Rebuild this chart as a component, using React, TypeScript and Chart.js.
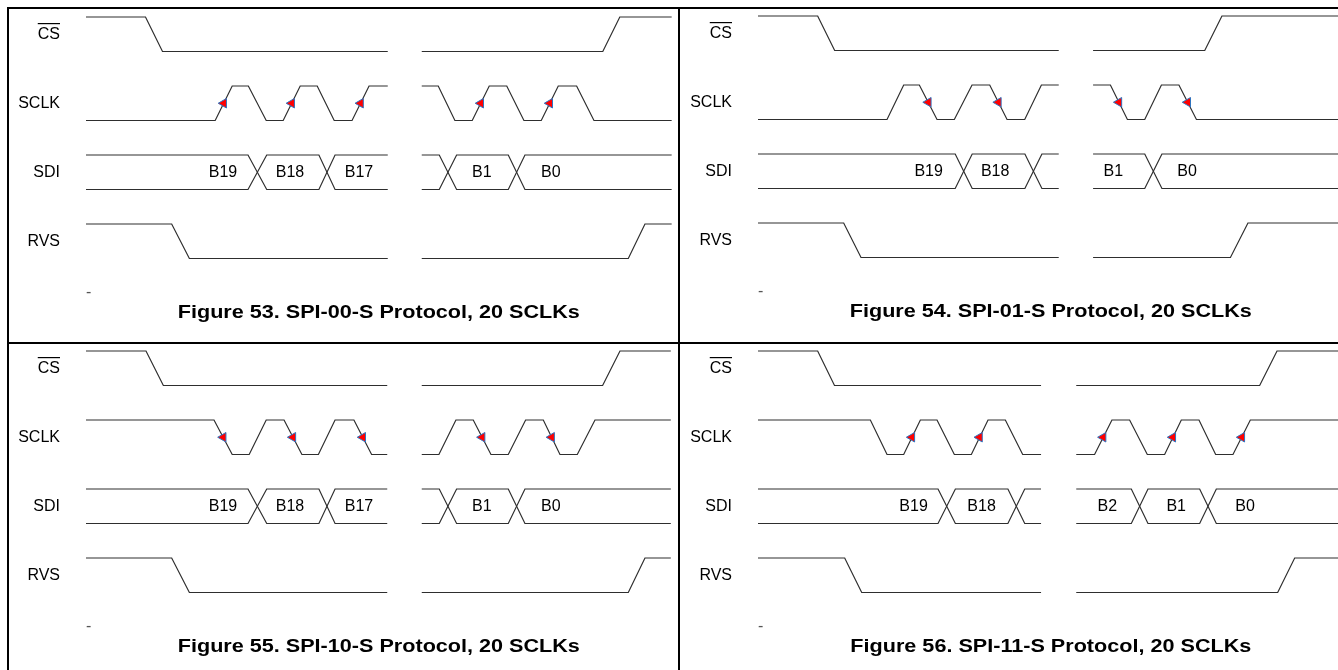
import React, { useEffect, useRef } from 'react';
import { Chart, registerables } from 'chart.js';

Chart.register(...registerables);

// ---------- shared ----------
const SIGNAL_NAMES = ['CS', 'SCLK', 'SDI', 'RVS'];
const ROW_HIGH = [1, -1, -3, -5]; // high level of each row (row units); low = high - 1

// ---------- Figure 53 ----------
const F53_TITLE = 'Figure 53. SPI-00-S Protocol, 20 SCLKs';
const F53_SEGMENTS = [[0, 17.75], [19.75, 34.45]];
const F53_CS_START = 1;
const F53_CS_EDGES = [[3.5, 4.5], [30.4, 31.4]];
const F53_SCLK_START = 0;
const F53_SCLK_EDGES = [[7.6, 8.6], [9.55, 10.6], [11.6, 12.6], [13.6, 14.6], [15.65, 16.65], [20.72, 21.7], [22.72, 23.72], [24.75, 25.76], [26.78, 27.78], [28.86, 29.88]];
const F53_SDI_CROSSINGS = [[9.53, 10.63], [13.7, 14.65], [20.78, 21.8], [24.84, 25.82]];
const F53_SDI_BITS = ['B19', 'B18', 'B17', 'B1', 'B0'];
const F53_SDI_BIT_TIMES = [8.06, 12.0, 16.06, 23.28, 27.34];
const F53_RVS_START = 1;
const F53_RVS_EDGES = [[5.04, 6.08], [31.9, 32.88]];
const F53_ARROWS = [8.1, 12.1, 16.15, 23.22, 27.28];

// ---------- Figure 54 ----------
const F54_TITLE = 'Figure 54. SPI-01-S Protocol, 20 SCLKs';
const F54_SEGMENTS = [[0, 17.69], [19.71, 34.6]];
const F54_CS_START = 1;
const F54_CS_EDGES = [[3.51, 4.51], [26.28, 27.29]];
const F54_SCLK_START = 0;
const F54_SCLK_EDGES = [[7.59, 8.57], [9.49, 10.53], [11.55, 12.59], [13.63, 14.65], [15.69, 16.67], [20.73, 21.73], [22.75, 23.73], [24.76, 25.79]];
const F54_SDI_CROSSINGS = [[11.6, 12.6], [15.7, 16.7], [22.75, 23.76]];
const F54_SDI_BITS = ['B19', 'B18', 'B1', 'B0'];
const F54_SDI_BIT_TIMES = [10.04, 13.95, 20.9, 25.24];
const F54_RVS_START = 1;
const F54_RVS_EDGES = [[5.04, 6.06], [27.79, 28.82]];
const F54_ARROWS = [10.02, 14.14, 21.23, 25.28];

// ---------- Figure 55 ----------
const F55_TITLE = 'Figure 55. SPI-10-S Protocol, 20 SCLKs';
const F55_SEGMENTS = [[0, 17.72], [19.75, 34.4]];
const F55_CS_START = 1;
const F55_CS_EDGES = [[3.53, 4.55], [30.39, 31.41]];
const F55_SCLK_START = 1;
const F55_SCLK_EDGES = [[7.53, 8.6], [9.6, 10.6], [11.65, 12.7], [13.67, 14.65], [15.76, 16.8], [20.76, 21.76], [22.78, 23.82], [24.84, 25.86], [26.9, 27.88], [28.9, 29.94]];
const F55_SDI_CROSSINGS = [[9.53, 10.63], [13.7, 14.65], [20.78, 21.8], [24.84, 25.82]];
const F55_SDI_BITS = ['B19', 'B18', 'B17', 'B1', 'B0'];
const F55_SDI_BIT_TIMES = [8.06, 12.0, 16.06, 23.28, 27.34];
const F55_RVS_START = 1;
const F55_RVS_EDGES = [[5.04, 6.08], [31.9, 32.88]];
const F55_ARROWS = [8.07, 12.17, 16.28, 23.3, 27.39];

// ---------- Figure 56 ----------
const F56_TITLE = 'Figure 56. SPI-11-S Protocol, 20 SCLKs';
const F56_SEGMENTS = [[0, 16.65], [18.72, 34.6]];
const F56_CS_START = 1;
const F56_CS_EDGES = [[3.51, 4.5], [29.51, 30.53]];
const F56_SCLK_START = 1;
const F56_SCLK_EDGES = [[6.61, 7.59], [8.57, 9.55], [10.53, 11.55], [12.55, 13.53], [14.55, 15.57], [19.8, 20.82], [21.86, 22.9], [23.92, 24.9], [25.94, 26.92], [27.94, 28.96]];
const F56_SDI_CROSSINGS = [[10.59, 11.61], [14.7, 15.69], [21.96, 22.94], [25.98, 26.96]];
const F56_SDI_BITS = ['B19', 'B18', 'B2', 'B1', 'B0'];
const F56_SDI_BIT_TIMES = [9.15, 13.15, 20.55, 24.6, 28.65];
const F56_RVS_START = 1;
const F56_RVS_EDGES = [[5.1, 6.1], [30.57, 31.57]];
const F56_ARROWS = [9.05, 13.03, 20.3, 24.4, 28.46];

// ---------- layout (pixels) ----------
const PX_PER_T = 17;      // px per time unit
const ORIGIN_PX = 78;     // px from canvas left to t = 0
const ROW_UNIT_PX = 34.5; // px per level unit
const TOP_PX = 8;         // px from canvas top to CS high level

const PANELS = [
  { title: F53_TITLE, seg: F53_SEGMENTS, cs: [F53_CS_START, F53_CS_EDGES], sclk: [F53_SCLK_START, F53_SCLK_EDGES], sdi: F53_SDI_CROSSINGS, bits: F53_SDI_BITS, bitT: F53_SDI_BIT_TIMES, rvs: [F53_RVS_START, F53_RVS_EDGES], arrows: F53_ARROWS, left: 8, top: 9, w: 670, h: 334 },
  { title: F54_TITLE, seg: F54_SEGMENTS, cs: [F54_CS_START, F54_CS_EDGES], sclk: [F54_SCLK_START, F54_SCLK_EDGES], sdi: F54_SDI_CROSSINGS, bits: F54_SDI_BITS, bitT: F54_SDI_BIT_TIMES, rvs: [F54_RVS_START, F54_RVS_EDGES], arrows: F54_ARROWS, left: 680, top: 8, w: 658, h: 335 },
  { title: F55_TITLE, seg: F55_SEGMENTS, cs: [F55_CS_START, F55_CS_EDGES], sclk: [F55_SCLK_START, F55_SCLK_EDGES], sdi: F55_SDI_CROSSINGS, bits: F55_SDI_BITS, bitT: F55_SDI_BIT_TIMES, rvs: [F55_RVS_START, F55_RVS_EDGES], arrows: F55_ARROWS, left: 8, top: 343, w: 670, h: 327 },
  { title: F56_TITLE, seg: F56_SEGMENTS, cs: [F56_CS_START, F56_CS_EDGES], sclk: [F56_SCLK_START, F56_SCLK_EDGES], sdi: F56_SDI_CROSSINGS, bits: F56_SDI_BITS, bitT: F56_SDI_BIT_TIMES, rvs: [F56_RVS_START, F56_RVS_EDGES], arrows: F56_ARROWS, left: 680, top: 343, w: 658, h: 327 },
];

type Pt = { x: number; y: number | null };

function buildTrace(segments: number[][], startLevel: number, edges: number[][], hi: number, lo: number): Pt[] {
  const pts: Pt[] = [];
  let level = startLevel;
  segments.forEach(([s, e], si) => {
    pts.push({ x: s, y: level ? hi : lo });
    edges.filter(([a, b]) => a >= s && b <= e).forEach(([a, b]) => {
      pts.push({ x: a, y: level ? hi : lo });
      level = 1 - level;
      pts.push({ x: b, y: level ? hi : lo });
    });
    pts.push({ x: e, y: level ? hi : lo });
    if (si < segments.length - 1) pts.push({ x: (e + segments[si + 1][0]) / 2, y: null });
  });
  return pts;
}

function buildBus(segments: number[][], crossings: number[][], hi: number, lo: number): Pt[][] {
  const a: Pt[] = [];
  const b: Pt[] = [];
  let up = true;
  segments.forEach(([s, e], si) => {
    a.push({ x: s, y: up ? hi : lo });
    b.push({ x: s, y: up ? lo : hi });
    crossings.filter(([c0, c1]) => c0 >= s && c1 <= e).forEach(([c0, c1]) => {
      a.push({ x: c0, y: up ? hi : lo });
      b.push({ x: c0, y: up ? lo : hi });
      up = !up;
      a.push({ x: c1, y: up ? hi : lo });
      b.push({ x: c1, y: up ? lo : hi });
    });
    a.push({ x: e, y: up ? hi : lo });
    b.push({ x: e, y: up ? lo : hi });
    if (si < segments.length - 1) {
      const g = (e + segments[si + 1][0]) / 2;
      a.push({ x: g, y: null });
      b.push({ x: g, y: null });
    }
  });
  return [a, b];
}

const LINE_COLOR = '#2e2e2e';
const FONT = '"Liberation Sans", Arial, Helvetica, sans-serif';

function makeChart(canvas: HTMLCanvasElement, p: any) {
  const lineDs = (data: Pt[]) => ({
    data,
    borderColor: LINE_COLOR,
    borderWidth: 1.2,
    pointRadius: 0,
    fill: false,
    tension: 0,
    spanGaps: false,
  });
  const [sdiA, sdiB] = buildBus(p.seg, p.sdi, ROW_HIGH[2], ROW_HIGH[2] - 1);
  const sclkMid = ROW_HIGH[1] - 0.5;
  const datasets: any[] = [
    {
      data: p.arrows.map((t: number) => ({ x: t, y: sclkMid })),
      showLine: false,
      pointStyle: 'triangle',
      rotation: 270,
      pointRadius: 5.5,
      backgroundColor: '#ff0000',
      borderColor: '#2f74c0',
      borderWidth: 1,
    },
    lineDs(buildTrace(p.seg, p.cs[0], p.cs[1], ROW_HIGH[0], ROW_HIGH[0] - 1)),
    lineDs(buildTrace(p.seg, p.sclk[0], p.sclk[1], ROW_HIGH[1], ROW_HIGH[1] - 1)),
    lineDs(sdiA),
    lineDs(sdiB),
    lineDs(buildTrace(p.seg, p.rvs[0], p.rvs[1], ROW_HIGH[3], ROW_HIGH[3] - 1)),
  ];

  const xMin = -ORIGIN_PX / PX_PER_T;
  const xMax = (p.w - ORIGIN_PX) / PX_PER_T;
  const yMax = ROW_HIGH[0] + TOP_PX / ROW_UNIT_PX;
  const yMin = ROW_HIGH[0] - (p.h - TOP_PX) / ROW_UNIT_PX;
  const titleT = (p.seg[0][0] + F53_SEGMENTS[F53_SEGMENTS.length - 1][1]) / 2;

  const textPlugin = {
    id: 'timingText',
    afterDatasetsDraw(chart: any) {
      const ctx = chart.ctx;
      const xs = chart.scales.x;
      const ys = chart.scales.y;
      ctx.save();
      ctx.fillStyle = '#000';
      ctx.textBaseline = 'middle';
      // signal names
      ctx.font = `16px ${FONT}`;
      ctx.textAlign = 'right';
      const nameX = xs.getPixelForValue(-1.53);
      SIGNAL_NAMES.forEach((name, i) => {
        const y = ys.getPixelForValue(ROW_HIGH[i] - 0.5);
        ctx.fillText(name, nameX, y);
        if (name === 'CS') {
          const w = ctx.measureText(name).width;
          ctx.fillRect(nameX - w, Math.round(y - 11), w, 1.2);
        }
      });
      // bit labels
      ctx.textAlign = 'center';
      const busMid = ys.getPixelForValue(ROW_HIGH[2] - 0.5);
      p.bits.forEach((b: string, i: number) => {
        ctx.fillText(b, xs.getPixelForValue(p.bitT[i]), busMid);
      });
      // small dash
      ctx.textAlign = 'left';
      ctx.fillStyle = '#555';
      ctx.fillText('-', xs.getPixelForValue(0), ys.getPixelForValue(-7));
      // title
      ctx.fillStyle = '#000';
      ctx.font = `bold 18px ${FONT}`;
      ctx.textAlign = 'center';
      const tx = xs.getPixelForValue(titleT);
      const ty = ys.getPixelForValue(-7.58);
      ctx.translate(tx, ty);
      ctx.scale(1.2, 1);
      ctx.fillText(p.title, 0, 0);
      ctx.restore();
    },
  };

  return new Chart(canvas, {
    type: 'line',
    data: { datasets },
    options: {
      animation: false,
      responsive: false,
      maintainAspectRatio: false,
      events: [],
      layout: { padding: 0, autoPadding: false },
      plugins: { legend: { display: false }, tooltip: { enabled: false }, title: { display: false } },
      scales: {
        x: { type: 'linear', display: false, min: xMin, max: xMax },
        y: { type: 'linear', display: false, min: yMin, max: yMax },
      },
    },
    plugins: [textPlugin],
  } as any);
}

export default function App() {
  const refs = useRef<(HTMLCanvasElement | null)[]>([]);
  useEffect(() => {
    const charts = PANELS.map((p, i) => makeChart(refs.current[i] as HTMLCanvasElement, p));
    return () => charts.forEach((c) => c.destroy());
  }, []);

  const line = (l: number, t: number, w: number, h: number) => (
    <div style={{ position: 'absolute', left: l, top: t, width: w, height: h, background: '#000' }} />
  );

  return (
    <div style={{ position: 'fixed', left: 0, top: 0, width: 1338, height: 670, overflow: 'hidden', background: '#fff' }}>
      {PANELS.map((p, i) => (
        <canvas
          key={i}
          ref={(el) => { refs.current[i] = el; }}
          width={p.w}
          height={p.h}
          style={{ position: 'absolute', left: p.left, top: p.top, width: p.w, height: p.h }}
        />
      ))}
      {line(7, 7, 1331, 2)}
      {line(7, 7, 2, 663)}
      {line(678, 7, 2, 663)}
      {line(7, 342, 1331, 2)}
    </div>
  );
}
